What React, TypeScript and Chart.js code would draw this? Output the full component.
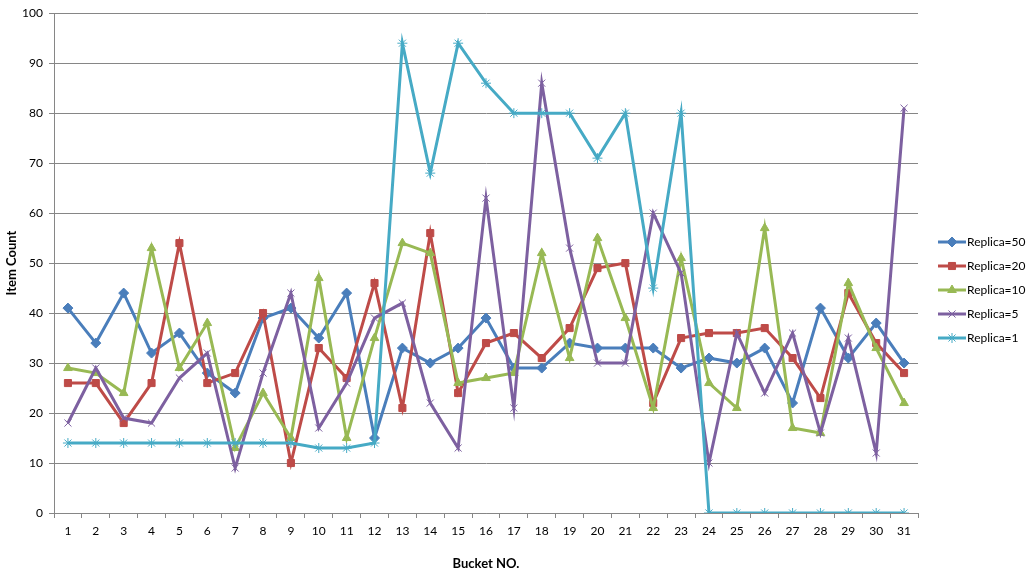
import { useEffect, useRef } from "react"
import { Chart, registerables } from "chart.js"
import { drawPoint } from "chart.js/helpers"

Chart.register(...registerables)

const buckets = Array.from({ length: 31 }, (_, i) => String(i + 1))

const replica50 = [41, 34, 44, 32, 36, 28, 24, 39, 41, 35, 44, 15, 33, 30, 33, 39, 29, 29, 34, 33, 33, 33, 29, 31, 30, 33, 22, 41, 31, 38, 30]
const replica20 = [26, 26, 18, 26, 54, 26, 28, 40, 10, 33, 27, 46, 21, 56, 24, 34, 36, 31, 37, 49, 50, 22, 35, 36, 36, 37, 31, 23, 44, 34, 28]
const replica10 = [29, 28, 24, 53, 29, 38, 13, 24, 15, 47, 15, 35, 54, 52, 26, 27, 28, 52, 31, 55, 39, 21, 51, 26, 21, 57, 17, 16, 46, 33, 22]
const replica5 = [18, 29, 19, 18, 27, 32, 9, 28, 44, 17, 26, 39, 42, 22, 13, 63, 21, 86, 53, 30, 30, 60, 48, 10, 36, 24, 36, 16, 35, 12, 81]
const replica1 = [14, 14, 14, 14, 14, 14, 14, 14, 14, 13, 13, 14, 94, 68, 94, 86, 80, 80, 80, 71, 80, 45, 80, 0, 0, 0, 0, 0, 0, 0, 0]

const seriesNames = ["Replica=50", "Replica=20", "Replica=10", "Replica=5", "Replica=1"]
const seriesValues = [replica50, replica20, replica10, replica5, replica1]
const seriesColors = ["#4A7EBB", "#BE4B48", "#98B954", "#7D60A0", "#46AAC5"]
const seriesMarkers = ["rectRot", "rect", "triangle", "crossRot", "star"]
const markerRadius = [5, 5, 5, 5, 5]

const FONT = "Lato, 'Noto Sans', sans-serif"

// Excel-style legend: short line with the marker in the middle
const lineLegend = {
  id: "lineLegend",
  afterDraw(chart: Chart) {
    const ctx = chart.ctx
    const x0 = 938
    const y0 = 242
    ctx.save()
    chart.data.datasets.forEach((ds: any, i: number) => {
      const y = y0 + i * 24
      ctx.strokeStyle = ds.borderColor
      ctx.fillStyle = ds.borderColor
      ctx.lineWidth = 3
      ctx.beginPath()
      ctx.moveTo(x0, y)
      ctx.lineTo(x0 + 28, y)
      ctx.stroke()
      ctx.lineWidth = 1
      drawPoint(ctx, { pointStyle: ds.pointStyle, radius: ds.pointRadius, borderWidth: 1, rotation: 0 }, x0 + 14, y)
      ctx.fillStyle = "#000"
      ctx.font = `12px ${FONT}`
      ctx.textBaseline = "middle"
      ctx.textAlign = "left"
      ctx.fillText(ds.label, x0 + 29, y)
    })
    ctx.restore()
  },
}

export default function App() {
  const chartRef = useRef<HTMLCanvasElement>(null)
  const chartInstance = useRef<Chart | null>(null)

  useEffect(() => {
    document.body.style.margin = "0"
    if (!chartRef.current) return
    if (chartInstance.current) chartInstance.current.destroy()
    const ctx = chartRef.current.getContext("2d")
    if (!ctx) return

    chartInstance.current = new Chart(ctx, {
      type: "line",
      data: {
        labels: buckets,
        datasets: seriesNames.map((name, i) => ({
          label: name,
          data: seriesValues[i],
          borderColor: seriesColors[i],
          backgroundColor: seriesColors[i],
          borderWidth: 3,
          pointStyle: seriesMarkers[i] as any,
          pointRadius: markerRadius[i],
          pointBorderWidth: 1,
          tension: 0,
          order: 4 - i,
        })),
      },
      options: {
        animation: false,
        responsive: false,
        maintainAspectRatio: false,
        layout: { padding: { top: 10, right: 116, left: 0, bottom: 0 } },
        plugins: {
          legend: { display: false },
          tooltip: { enabled: false },
        },
        scales: {
          x: {
            offset: true,
            afterFit: (scale: any) => {
              scale.height = 65
            },
            grid: {
              drawOnChartArea: false,
              drawTicks: true,
              tickLength: 5,
              offset: true,
              color: "#868686",
            },
            border: { color: "#868686", width: 1 },
            ticks: { color: "#000", font: { family: FONT, size: 12 }, padding: 6, maxRotation: 0, autoSkip: false },
            title: {
              display: true,
              text: "Bucket NO.",
              color: "#000",
              font: { family: FONT, size: 13, weight: "bold" },
              padding: { top: 4, bottom: 6 },
            },
          },
          y: {
            min: 0,
            max: 100,
            afterFit: (scale: any) => {
              scale.width = 54
            },
            grid: { color: "#868686", tickLength: 5, drawTicks: true },
            border: { color: "#868686", width: 1 },
            ticks: { stepSize: 10, color: "#000", font: { family: FONT, size: 12 }, padding: 6 },
            title: {
              display: true,
              text: "Item Count",
              color: "#000",
              font: { family: FONT, size: 13, weight: "bold" },
              padding: { top: 4, bottom: 4 },
            },
          },
        },
      },
      plugins: [lineLegend],
    })

    return () => {
      if (chartInstance.current) chartInstance.current.destroy()
    }
  }, [])

  return (
    <div style={{ width: 1034, height: 578, background: "#fff" }}>
      <canvas ref={chartRef} width={1034} height={578} style={{ width: 1034, height: 578 }} />
    </div>
  )
}
